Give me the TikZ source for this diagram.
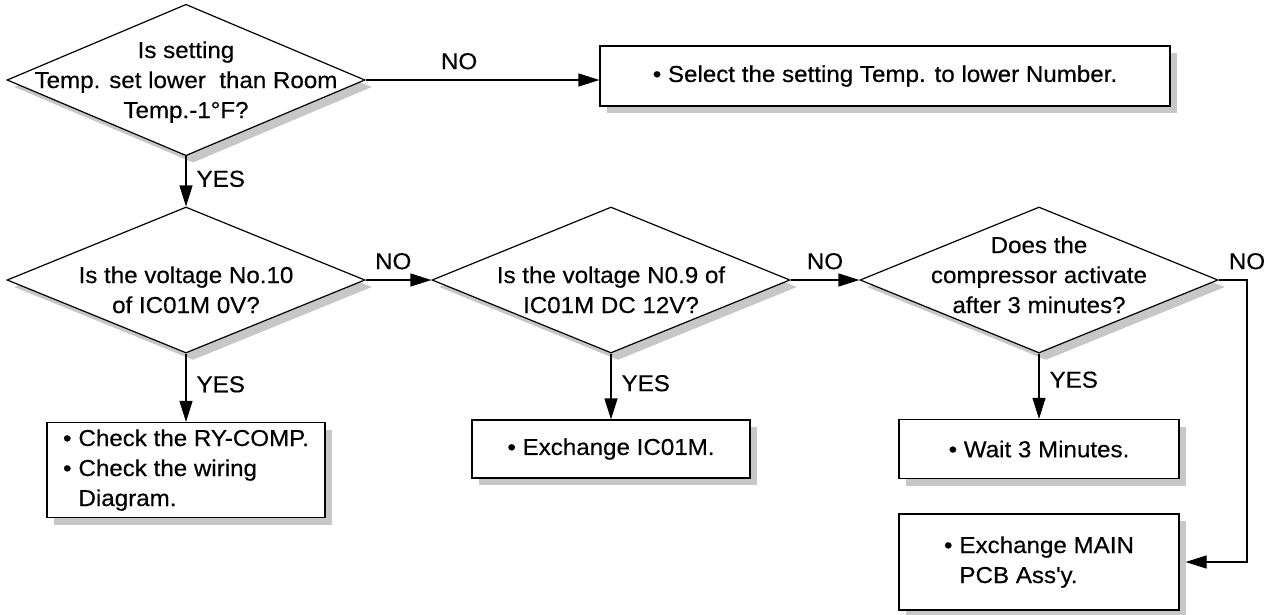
\documentclass[tikz,border=0pt]{standalone}
\usepackage{fontspec}
\setmainfont[FakeStretch=1.05,FakeBold=0.4]{Liberation Sans}
\usetikzlibrary{arrows.meta,shadows,shapes.geometric}
% text of a decision, first baseline raised by #1
\newcommand{\dtxt}[2]{\smash{\raisebox{#1}{\begin{tabular}[t]{@{}c@{}}#2\end{tabular}}}}
% bulleted text of an action box
\newcommand{\btxt}[1]{\begin{tabular}{@{}l@{\hspace{7pt}}l@{}}#1\end{tabular}}

\begin{document}
\begin{tikzpicture}[x=1pt,y=-1pt,>={Triangle[length=21pt,width=13pt]},
    line width=1.2pt,font=\fontsize{23}{30}\selectfont,
    shd/.style={drop shadow={shadow xshift=7pt,shadow yshift=-7pt,fill=black!22,opacity=1}},
    dec/.style={diamond,draw,fill=white,shd,inner sep=0pt,shape aspect=2,
      minimum width=358pt,minimum height=146pt},
    act/.style={rectangle,draw,fill=white,shd,inner sep=0pt},
    lbl/.style={inner sep=2pt}]
  \useasboundingbox (0,0) rectangle (1274,614);
  % decisions
  \node[dec] (d1) at (186,80) {\dtxt{22pt}{Is setting\\Temp. set lower\ \ than Room\\Temp.-1°F?}};
  \node[dec] (d2) at (186,280) {\dtxt{-3pt}{Is the voltage No.10\\of IC01M 0V?}};
  \node[dec] (d3) at (611,280) {\dtxt{-3pt}{Is the voltage N0.9 of\\IC01M DC 12V?}};
  \node[dec] (d4) at (1039,280) {\dtxt{27pt}{Does the\\compressor activate\\after 3 minutes?}};
  % actions
  \node[act,minimum width=570pt,minimum height=60pt] (b1) at (885,76)
    {\textbullet\ Select the setting Temp. to lower Number.};
  \node[act,minimum width=278pt,minimum height=95pt] (b2) at (186,470)
    {\btxt{\textbullet & Check the RY-COMP.\\ \textbullet & Check the wiring\\ & Diagram.}};
  \node[act,minimum width=278pt,minimum height=58pt] (b3) at (611,449) {\textbullet\ Exchange IC01M.};
  \node[act,minimum width=280pt,minimum height=59pt] (b4) at (1039,449) {\textbullet\ Wait 3 Minutes.};
  \node[act,minimum width=280pt,minimum height=96pt] (b5) at (1039,562)
    {\btxt{\textbullet & Exchange MAIN\\ & PCB Ass\textquotesingle y.}};
  % flow
  \draw[->] (d1.east) -- node[lbl,above=8pt,pos=0.4]{NO} (b1.west |- d1.east);
  \draw[->] (d1.south) -- node[lbl,right=8pt,pos=0.45]{YES} (d2.north);
  \draw[->] (d2.east) -- node[lbl,above=8pt,pos=0.42]{NO} (d3.west);
  \draw[->] (d3.east) -- node[lbl,above=8pt]{NO} (d4.west);
  \draw[->] (d2.south) -- node[lbl,right=8pt,pos=0.45]{YES} (b2.north);
  \draw[->] (d3.south) -- node[lbl,right=8pt,pos=0.45]{YES} (b3.north);
  \draw[->] (d4.south) -- node[lbl,right=8pt,pos=0.4]{YES} (b4.north);
  \coordinate (c4) at (1247,280);
  \draw[->,shorten >=6pt] (d4.east) -- (c4) node[lbl,above=8pt]{NO} |- (b5.east);
\end{tikzpicture}
\end{document}
